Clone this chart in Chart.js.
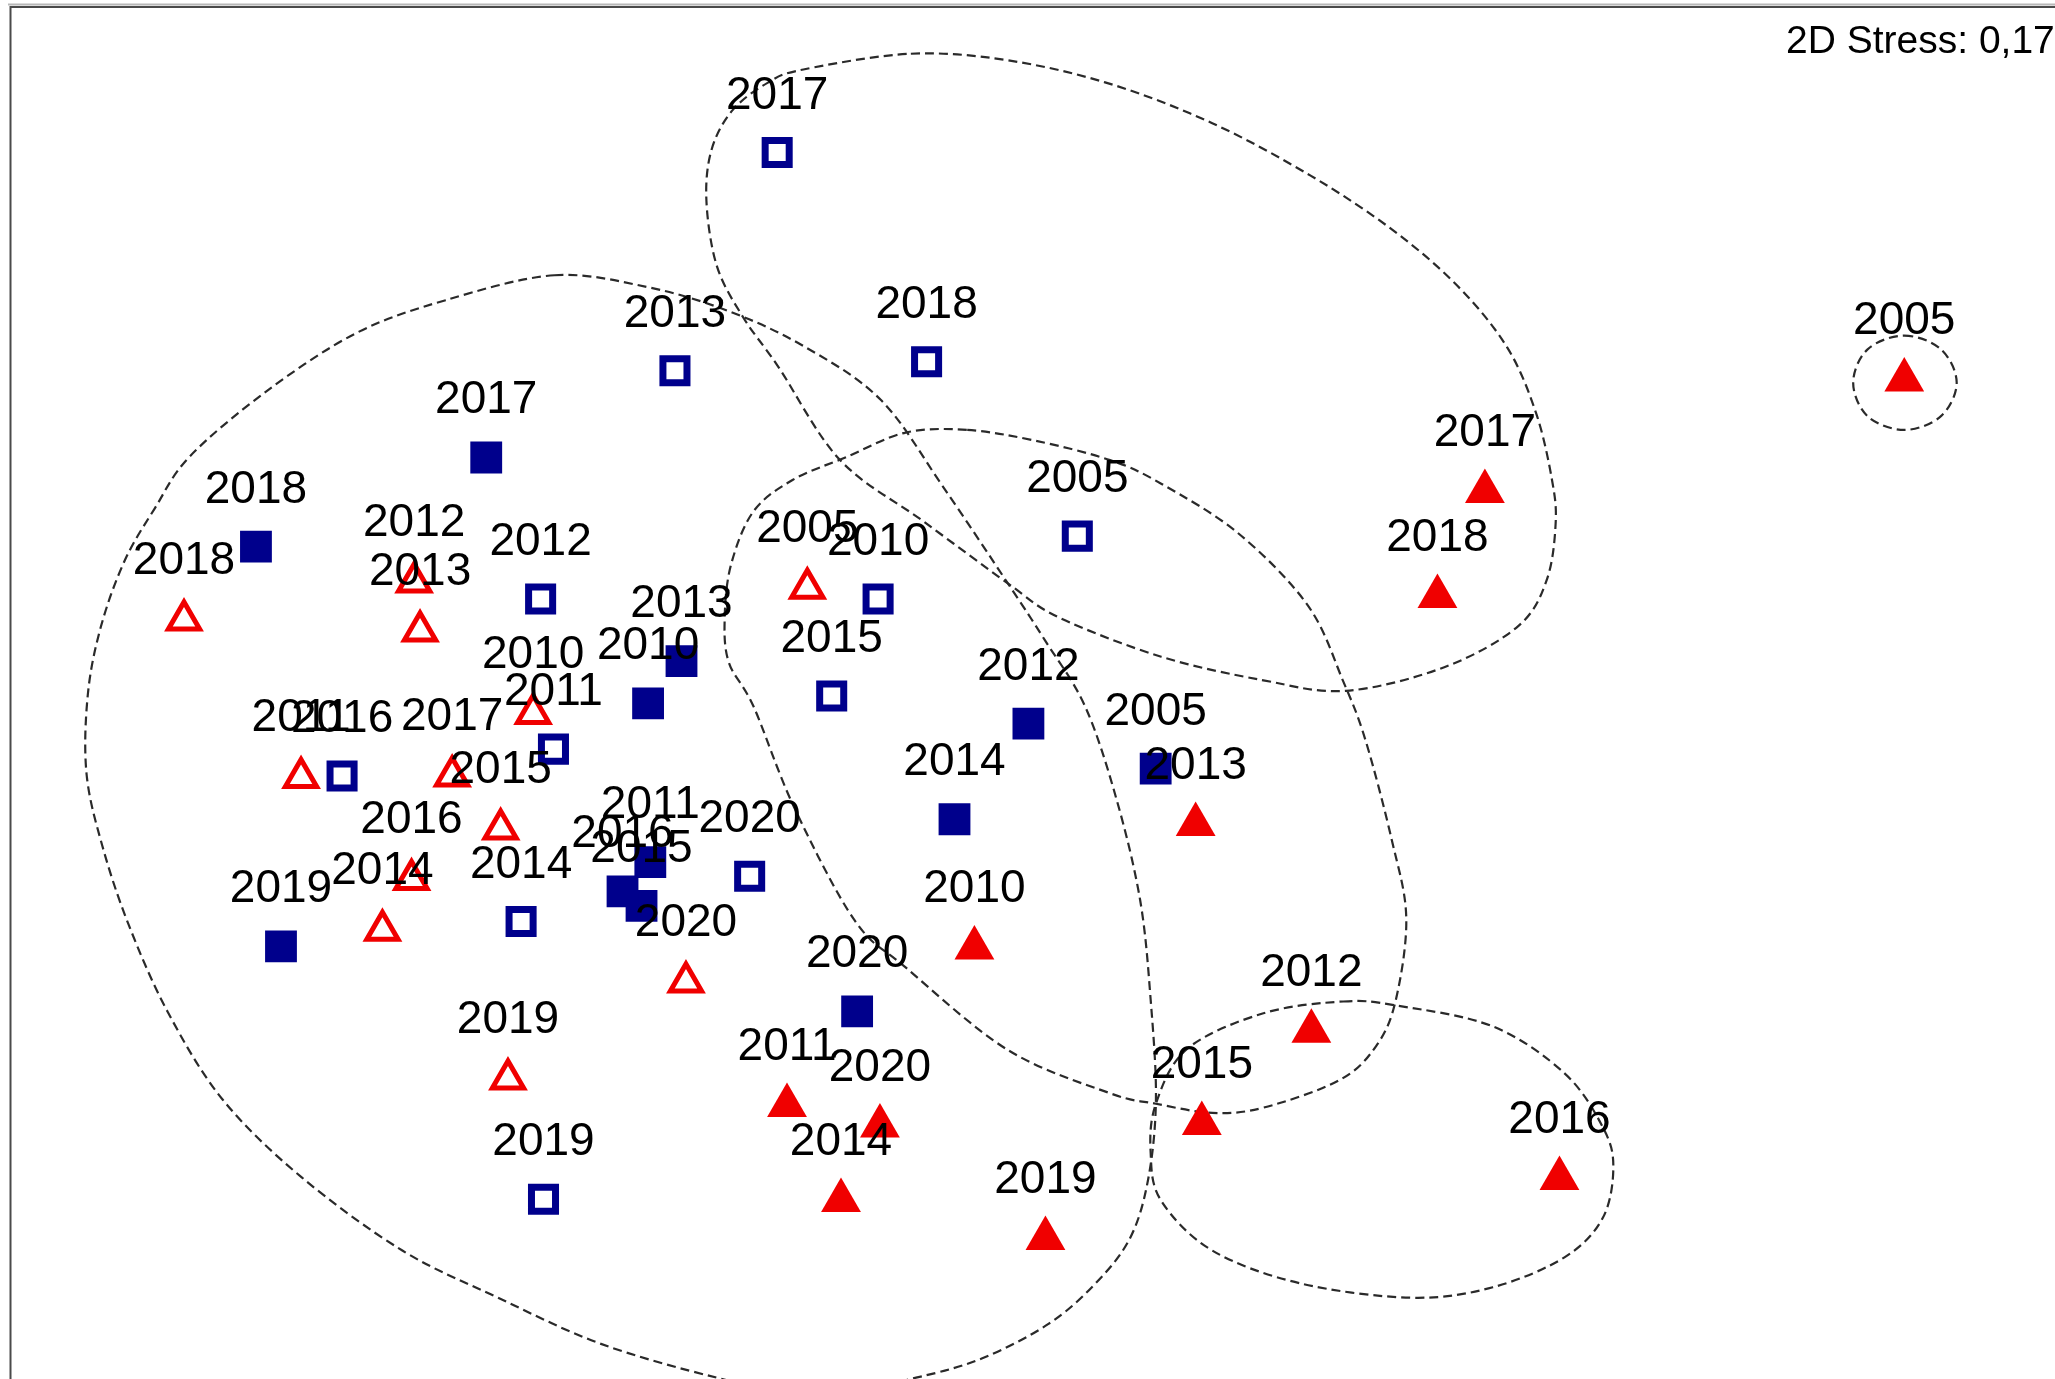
<!DOCTYPE html>
<html>
<head>
<meta charset="utf-8">
<title>nMDS ordination</title>
<script src="https://cdn.jsdelivr.net/npm/chart.js@4/dist/chart.umd.min.js"></script>
<style>
  html, body { margin: 0; padding: 0; background: #ffffff; overflow: hidden; }
  #wrap { width: 2055px; height: 1379px; position: relative; background: #ffffff; }
  canvas { display: block; }
</style>
</head>
<body>
<div id="wrap"><canvas id="mds" width="2055" height="1379"></canvas></div>
<script>
// Sampling years shared by all four groups
const years = ['2005', '2010', '2011', '2012', '2013', '2014', '2015', '2016', '2017', '2018', '2019', '2020'];

// Ordination coordinates (axis 1 = x, axis 2 = y; y grows downward)
const filledSquareX = [881.8, 494.5, 496.2, 784.7, 520.0, 728.3, 489.5, 475.0, 371.0, 195.3, 214.4, 654.0];
const filledSquareY = [586.4, 536.6, 657.7, 552.0, 504.3, 625.0, 691.0, 680.0, 349.0, 417.0, 722.0, 771.5];

const openSquareX = [822.0, 670.0, 422.3, 412.5, 515.0, 397.6, 634.6, 261.0, 593.0, 707.0, 414.7, 572.0];
const openSquareY = [409.0, 457.0, 571.5, 457.0, 282.8, 703.0, 531.0, 592.0, 116.4, 276.0, 914.8, 668.4];

const openTriangleX = [616.0, 406.8, 229.7, 316.0, 320.5, 291.8, 382.0, 314.0, 345.0, 140.4, 387.6, 523.4];
const openTriangleY = [448.8, 544.4, 593.1, 443.9, 481.4, 709.6, 632.4, 670.9, 591.9, 472.9, 823.1, 749.1];

const filledTriangleX = [1453.0, 743.5, 600.5, 1000.6, 912.3, 641.7, 917.0, 1189.9, 1133.0, 1096.8, 797.7, 671.4];
const filledTriangleY = [289.8, 723.2, 843.3, 786.8, 628.9, 915.8, 857.0, 899.0, 375.0, 455.1, 944.8, 859.0];

// Similarity contours (closed outlines through these points, same units)
const contourLarge = [[423,210],[494,219],[555,237],[613,264],[672,305],[720,372],[769,445],[797,488],[828,539],[852,610],[870,687],[878,763],[882,839],[876,900],[862,945],[835,980],[800,1010],[750,1036],[699,1051],[623,1066],[547,1051],[458,1025],[380,990],[307,954],[230,898],[170,839],[128,772],[98,705],[78,645],[66,590],[67,530],[77,478],[95,428],[118,388],[145,348],[204,298],[272,254],[340,229]];
const contourUpper = [[695,41],[769,46],[847,64],[925,94],[1000,134],[1062,175],[1112,218],[1150,265],[1172,315],[1184,365],[1187,399],[1180,443],[1158,478],[1102,509],[1027,527],[964,519],[886,501],[808,471],[769,445],[705,398],[641,351],[594,280],[567,242],[547,203],[539,153],[543,114],[559,84],[586,63],[613,53]];
const contourMiddle = [[738,328],[789,336],[847,351],[886,369],[945,407],[998,462],[1025,520],[1042,565],[1062,641],[1073,700],[1065,763],[1050,798],[1022,824],[964,845],[925,849],[882,842],[847,834],[769,801],[691,738],[652,702],[606,616],[575,539],[556,505],[553,470],[558,430],[575,390],[605,366],[645,349],[691,330]];
const contourLowerRight = [[1025,764],[1065,767],[1139,783],[1194,819],[1223,860],[1231,890],[1223,929],[1194,959],[1139,982],[1077,990],[992,979],[925,954],[886,916],[878,880],[882,842],[906,800],[964,773]];
const contourSingle = [[1453,256],[1481,266.5],[1493,292],[1481,317.5],[1453,328],[1425,317.5],[1414,292],[1425,266.5]];

const contours = [contourLarge, contourUpper, contourMiddle, contourLowerRight, contourSingle];

const stressText = '2D Stress: 0,17';

const BLUE = '#00008c';
const RED = '#f00000';
const FONT = '"Liberation Sans", Arial, Helvetica, sans-serif';

function toPoints(xs, ys) {
  return xs.map((x, i) => ({ x: x, y: ys[i] }));
}

// Dashed closed outlines, drawn as closed Catmull-Rom curves under the markers
const contourPlugin = {
  id: 'contours',
  beforeDatasetsDraw(chart) {
    const { ctx, scales } = chart;
    ctx.save();
    ctx.strokeStyle = '#2a2a2a';
    ctx.lineWidth = 2.2;
    ctx.setLineDash([9, 5]);
    contours.forEach(path => {
      const p = path.map(([x, y]) => [scales.x.getPixelForValue(x), scales.y.getPixelForValue(y)]);
      const n = p.length;
      ctx.beginPath();
      ctx.moveTo(p[0][0], p[0][1]);
      for (let i = 0; i < n; i++) {
        const p0 = p[(i - 1 + n) % n], p1 = p[i], p2 = p[(i + 1) % n], p3 = p[(i + 2) % n];
        const c1x = p1[0] + (p2[0] - p0[0]) / 6, c1y = p1[1] + (p2[1] - p0[1]) / 6;
        const c2x = p2[0] - (p3[0] - p1[0]) / 6, c2y = p2[1] - (p3[1] - p1[1]) / 6;
        ctx.bezierCurveTo(c1x, c1y, c2x, c2y, p2[0], p2[1]);
      }
      ctx.closePath();
      ctx.stroke();
    });
    ctx.restore();
  }
};

// Year label above every marker
const labelPlugin = {
  id: 'yearLabels',
  afterDatasetsDraw(chart) {
    const ctx = chart.ctx;
    ctx.save();
    ctx.font = '46px ' + FONT;
    ctx.fillStyle = '#000000';
    ctx.textAlign = 'center';
    ctx.textBaseline = 'alphabetic';
    chart.data.datasets.forEach((ds, i) => {
      const meta = chart.getDatasetMeta(i);
      meta.data.forEach((el, j) => {
        ctx.fillText(ds.yearLabels[j], el.x, el.y - ds.labelLift);
      });
    });
    ctx.restore();
  }
};

// Plot frame (top and left edges) and stress annotation
const framePlugin = {
  id: 'frame',
  afterDraw(chart) {
    const ctx = chart.ctx;
    ctx.save();
    ctx.strokeStyle = '#b8b8b8';
    ctx.lineWidth = 2;
    ctx.beginPath();
    ctx.moveTo(8, 4.5);
    ctx.lineTo(chart.width, 4.5);
    ctx.stroke();
    ctx.strokeStyle = '#4a4a4a';
    ctx.lineWidth = 2;
    ctx.beginPath();
    ctx.moveTo(chart.width, 7);
    ctx.lineTo(10.5, 7);
    ctx.lineTo(10.5, chart.height);
    ctx.stroke();
    ctx.font = '39px ' + FONT;
    ctx.fillStyle = '#000000';
    ctx.textAlign = 'left';
    ctx.textBaseline = 'alphabetic';
    ctx.fillText(stressText, 1786, 53);
    ctx.restore();
  }
};

new Chart(document.getElementById('mds'), {
  type: 'scatter',
  data: {
    datasets: [
      {
        label: 'open squares',
        data: toPoints(openSquareX, openSquareY),
        yearLabels: years,
        labelLift: 44,
        pointStyle: 'rect',
        pointRadius: 17,
        pointBorderWidth: 7,
        pointBorderColor: BLUE,
        pointBackgroundColor: '#ffffff'
      },
      {
        label: 'filled squares',
        data: toPoints(filledSquareX, filledSquareY),
        yearLabels: years,
        labelLift: 44,
        pointStyle: 'rect',
        pointRadius: 22.5,
        pointBorderWidth: 0,
        pointBorderColor: BLUE,
        pointBackgroundColor: BLUE
      },
      {
        label: 'open triangles',
        data: toPoints(openTriangleX, openTriangleY),
        yearLabels: years,
        labelLift: 46,
        pointStyle: 'triangle',
        pointRadius: 18,
        pointBorderWidth: 5,
        pointBorderColor: RED,
        pointBackgroundColor: '#ffffff'
      },
      {
        label: 'filled triangles',
        data: toPoints(filledTriangleX, filledTriangleY),
        yearLabels: years,
        labelLift: 45.5,
        pointStyle: 'triangle',
        pointRadius: 23,
        pointBorderWidth: 0,
        pointBorderColor: RED,
        pointBackgroundColor: RED
      }
    ]
  },
  options: {
    responsive: false,
    animation: false,
    devicePixelRatio: 1,
    layout: { padding: 0, autoPadding: false },
    events: [],
    plugins: {
      legend: { display: false },
      tooltip: { enabled: false }
    },
    elements: { point: { hoverRadius: 0 } },
    datasets: { scatter: { clip: false } },
    scales: {
      x: { type: 'linear', min: 0, max: 1568, display: false },
      y: { type: 'linear', min: 0, max: 1052, reverse: true, display: false }
    }
  },
  plugins: [contourPlugin, labelPlugin, framePlugin]
});
</script>
</body>
</html>
